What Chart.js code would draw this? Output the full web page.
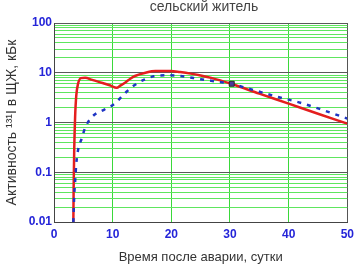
<!DOCTYPE html>
<html>
<head>
<meta charset="utf-8">
<script src="https://cdn.jsdelivr.net/npm/chart.js@4/dist/chart.umd.min.js"></script>
<style>
    html, body { margin: 0; padding: 0; background: #fff; }
    #wrap { width: 359px; height: 265px; position: relative; }
</style>
</head>
<body>
<div id="wrap"><canvas id="chart"></canvas></div>
<script>
// red curve (solid)
const redDays = [3.3, 3.35, 3.45, 3.6, 3.8, 4.1, 4.6, 5.3, 6.5, 8.1, 9.5, 10.7, 11.3, 12.1, 13, 13.8, 15.6, 17.3, 19.9, 21.5, 23.3, 25, 26.8, 30.2, 35, 40, 45, 50]
const redValues = [0.01, 0.05, 0.3, 1.3, 3.5, 6.0, 7.8, 7.9, 7.2, 6.3, 5.6, 5.0, 5.5, 6.3, 7.6, 8.6, 10, 10.8, 10.8, 10.3, 9.6, 8.8, 7.9, 6.0, 3.8, 2.4, 1.5, 0.95]

// blue curve (dotted)
const blueDays = [3.3, 3.45, 3.6, 3.8, 4.1, 4.7, 5.3, 6.5, 8.5, 10.4, 11.3, 12.4, 13.5, 15.3, 17, 19.3, 21.6, 25, 30, 34, 38, 42, 46, 50]
const blueValues = [0.01, 0.035, 0.065, 0.15, 0.28, 0.47, 0.78, 1.3, 1.8, 2.4, 3.1, 4.2, 5.4, 7.2, 8.5, 8.9, 8.6, 7.4, 6.0, 4.5, 3.3, 2.5, 1.75, 1.2]

// measured point
const markDays = [30.3]
const markValues = [6.0]

const xTicks = [0, 10, 20, 30, 40, 50]
const yDecades = [0.01, 0.1, 1, 10, 100]

const title = 'сельский житель'
const xTitle = 'Время после аварии, сутки'
const yTitle = 'Активность ¹³¹I в ЩЖ, кБк'

const toPoints = (xs, ys) => xs.map((x, i) => ({x: x, y: ys[i]}))

// all log grid lines: 1..9 x decade
const yGrid = []
yDecades.forEach((d, i) => {
    if (i === yDecades.length - 1) { yGrid.push(d); return }
    for (let k = 1; k <= 9; k++) yGrid.push(+(d * k).toPrecision(3))
})
const isDecade = v => Math.abs(Math.log10(v) - Math.round(Math.log10(v))) < 1e-6

const titlePlugin = {
    id: 'topTitle',
    afterDraw(chart) {
        const ctx = chart.ctx
        ctx.save()
        ctx.font = '14px "Liberation Sans", Arial, sans-serif'
        ctx.fillStyle = '#444'
        ctx.textAlign = 'center'
        ctx.textBaseline = 'alphabetic'
        ctx.fillText(title, 204, 11)
        ctx.restore()
    }
}

const ctx = document.getElementById('chart').getContext('2d')
new Chart(ctx, {
    type: 'line',
    data: {
        datasets: [
            {
                label: 'mark',
                data: toPoints(markDays, markValues),
                showLine: false,
                pointStyle: 'rect',
                pointRadius: 3.5,
                backgroundColor: '#4a3c9c',
                borderColor: '#2a2a2a',
                borderWidth: 1,
                order: 0
            },
            {
                label: 'blue',
                data: toPoints(blueDays, blueValues),
                borderColor: '#1f35c4',
                borderWidth: 2.5,
                borderDash: [4, 6],
                pointRadius: 0,
                cubicInterpolationMode: 'monotone',
                order: 1
            },
            {
                label: 'red',
                data: toPoints(redDays, redValues),
                borderColor: '#e41e1e',
                borderWidth: 2.5,
                pointRadius: 0,
                cubicInterpolationMode: 'monotone',
                order: 2
            }
        ]
    },
    options: {
        responsive: true,
        maintainAspectRatio: false,
        animation: false,
        layout: {padding: {top: 23, right: 11, left: 0, bottom: 0}},
        plugins: {
            legend: {display: false},
            tooltip: {enabled: false}
        },
        scales: {
            x: {
                type: 'linear',
                min: 0,
                max: 50,
                afterFit: scale => { scale.height = 43 },
                afterBuildTicks: scale => { scale.ticks = xTicks.map(v => ({value: v})) },
                ticks: {
                    color: '#2424d8',
                    font: {family: '"Liberation Sans", Arial, sans-serif', size: 12, weight: 'bold'},
                    padding: 5,
                    maxRotation: 0
                },
                grid: {
                    drawTicks: false,
                    color: c => (c.tick && (c.tick.value === 0 || c.tick.value === 50)) ? '#555' : '#3ad83a',
                    lineWidth: 1
                },
                border: {color: '#444', width: 1},
                title: {
                    display: true,
                    text: xTitle,
                    color: '#333',
                    font: {family: '"Liberation Sans", Arial, sans-serif', size: 13},
                    padding: {top: 0, bottom: 0}
                }
            },
            y: {
                type: 'logarithmic',
                min: 0.01,
                max: 100,
                afterFit: scale => { scale.width = 54 },
                afterBuildTicks: scale => { scale.ticks = yGrid.map(v => ({value: v})) },
                ticks: {
                    autoSkip: false,
                    color: '#2424d8',
                    font: {family: '"Liberation Sans", Arial, sans-serif', size: 12, weight: 'bold'},
                    padding: 2,
                    callback: v => isDecade(v) ? String(v) : ''
                },
                grid: {
                    drawTicks: false,
                    color: c => (c.tick && isDecade(c.tick.value)) ? '#5a5a5a' : '#5ee65e',
                    lineWidth: 1
                },
                border: {color: '#444', width: 1},
                title: {
                    display: true,
                    text: yTitle,
                    color: '#333',
                    font: {family: '"Liberation Sans", Arial, sans-serif', size: 14},
                    padding: {top: 4, bottom: 0}
                }
            }
        }
    },
    plugins: [titlePlugin]
})
</script>
</body>
</html>
